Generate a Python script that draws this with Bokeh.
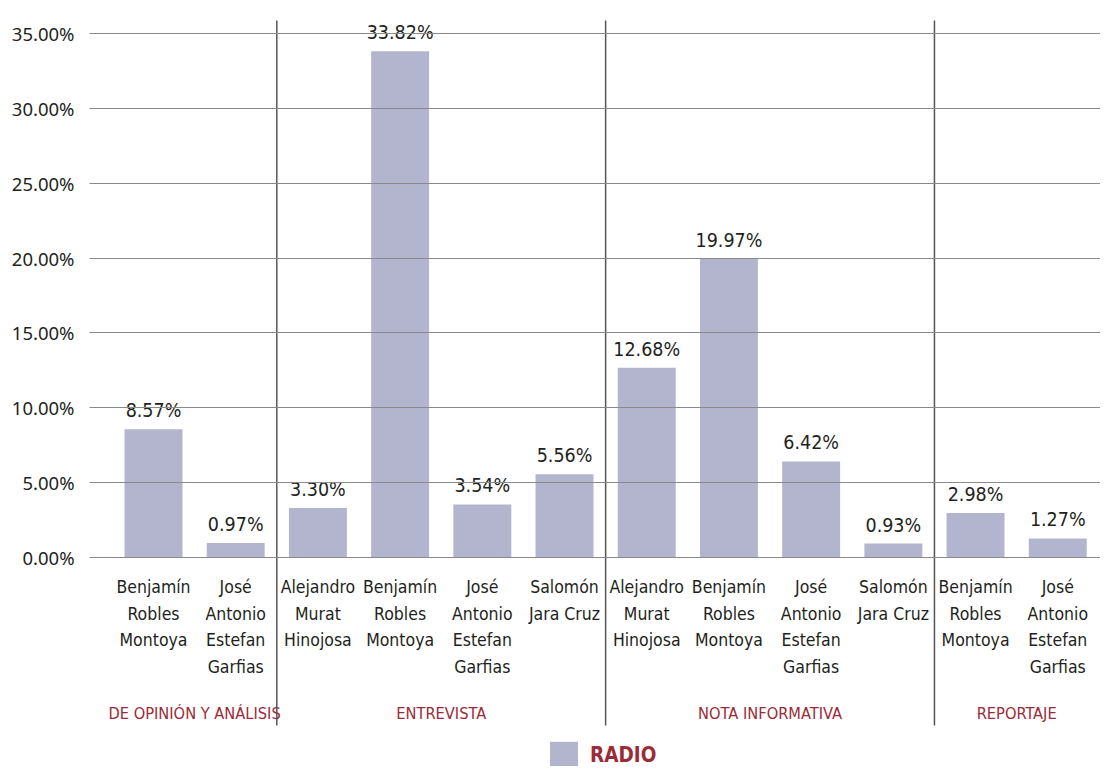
from bokeh.plotting import figure
from bokeh.models import ColumnDataSource, FixedTicker, PrintfTickFormatter, Range1d, Legend, LegendItem
from bokeh.core.properties import value
from bokeh.embed import file_html
from bokeh.resources import INLINE

# ---- data ----
names = [
    "Benjamín\nRobles\nMontoya",
    "José\nAntonio\nEstefan\nGarfias",
    "Alejandro\nMurat\nHinojosa",
    "Benjamín\nRobles\nMontoya",
    "José\nAntonio\nEstefan\nGarfias",
    "Salomón\nJara Cruz",
    "Alejandro\nMurat\nHinojosa",
    "Benjamín\nRobles\nMontoya",
    "José\nAntonio\nEstefan\nGarfias",
    "Salomón\nJara Cruz",
    "Benjamín\nRobles\nMontoya",
    "José\nAntonio\nEstefan\nGarfias",
]
values = [8.57, 0.97, 3.30, 33.82, 3.54, 5.56, 12.68, 19.97, 6.42, 0.93, 2.98, 1.27]
groups = ["DE OPINIÓN Y ANÁLISIS", "ENTREVISTA", "NOTA INFORMATIVA", "REPORTAJE"]
group_sizes = [2, 4, 4, 2]
y_ticks = [0, 5, 10, 15, 20, 25, 30, 35]
series_name = "RADIO"

# ---- derived positions ----
xs = list(range(len(values)))
labels = ["%.2f%%" % v for v in values]
group_centers, separators = [], []
start = 0
for i, n in enumerate(group_sizes):
    group_centers.append(start + (n - 1) / 2)
    start += n
    if i < len(group_sizes) - 1:
        separators.append(start - 0.5)

BAR = "#b3b5ce"
RED = "#9b2b37"
TXT = "#231f20"
NARROW_NAME = "'DejaVu Sans Condensed', 'Liberation Sans Narrow', sans-serif"
NARROW = value(NARROW_NAME)

p = figure(width=1100, height=766, output_backend="svg", toolbar_location=None,
           x_range=Range1d(-0.7786, 11.52), y_range=Range1d(-13.96, 37.204),
           min_border_left=89, min_border_right=0, min_border_top=0, min_border_bottom=0)
p.outline_line_color = None
p.xaxis.visible = False
p.xgrid.visible = False

ya = p.yaxis[0]
ya.ticker = FixedTicker(ticks=y_ticks)
ya.formatter = PrintfTickFormatter(format="%.2f%%")
ya.axis_line_color = None
ya.major_tick_line_color = None
ya.minor_tick_line_color = None
ya.major_tick_out = 0
ya.major_label_standoff = 15
ya.major_label_text_font = "Noto Sans"
ya.major_label_text_font_size = "18.5px"
ya.major_label_text_color = TXT

p.ygrid.ticker = FixedTicker(ticks=y_ticks)
p.ygrid.grid_line_color = "#8a8a8a"
p.ygrid.grid_line_width = 1.2
p.ygrid.level = "overlay"

src = ColumnDataSource(dict(x=xs, v=values, lab=labels, name=names))
bars = p.vbar(x="x", top="v", width=0.705, bottom=0, source=src,
              fill_color=BAR, line_color=None)

p.text(x="x", y="v", text="lab", source=src, text_font=NARROW,
       text_font_size="19.5px", text_color=TXT, text_align="center",
       text_baseline="bottom", y_offset=-7, level="overlay",
       background_fill_color="white")

p.text(x="x", y=0, text="name", source=src, text_font=NARROW,
       text_font_size="17.5px", text_color=TXT, text_align="center",
       text_baseline="top", y_offset=20, text_line_height=1.32)

p.text(x=group_centers, y=[0] * len(groups), text=groups, text_font=NARROW,
       text_font_size="16.3px", text_color=RED, text_align="center",
       text_baseline="middle", y_offset=156)

p.segment(x0=separators, x1=separators, y0=[35.87] * len(separators),
          y1=[-11.22] * len(separators), line_color="#555555", line_width=1.5)

legend = Legend(items=[LegendItem(label=series_name, renderers=[bars])],
                location=(457, -5), orientation="horizontal",
                glyph_width=35, glyph_height=33, label_standoff=9,
                padding=0, margin=0, border_line_color=None,
                background_fill_alpha=0,
                label_text_font=NARROW_NAME,
                label_text_font_style="bold", label_text_font_size="20.5px",
                label_text_color=RED)
p.add_layout(legend, "center")

open("out.html", "w").write(file_html(p, INLINE))
